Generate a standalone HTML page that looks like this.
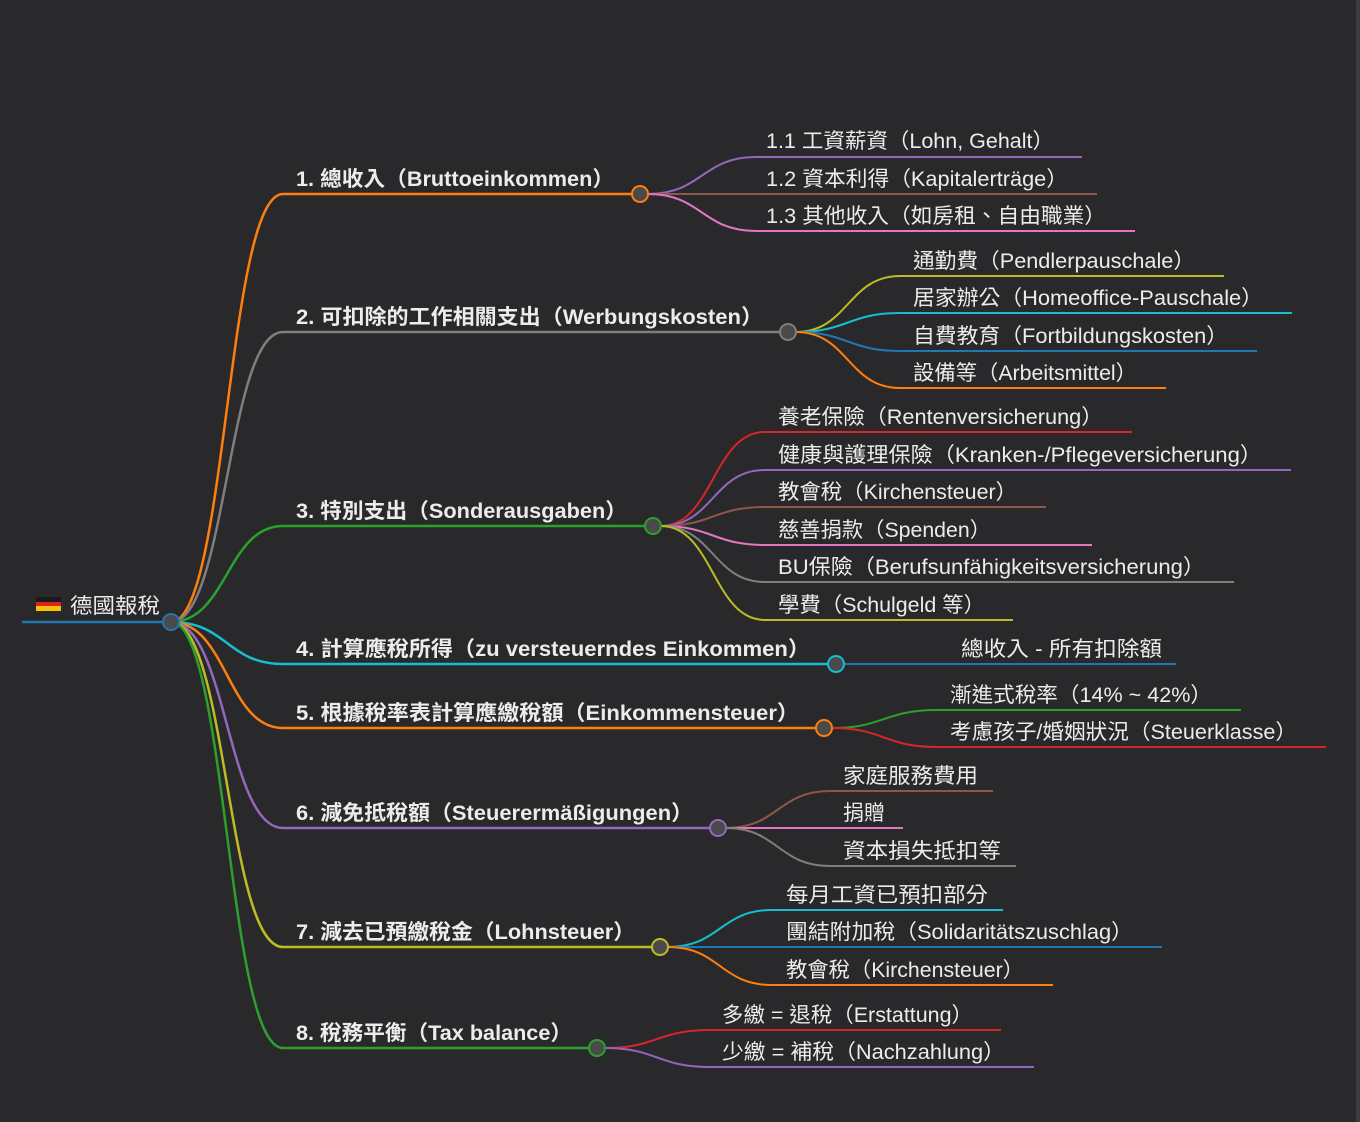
<!DOCTYPE html>
<html><head><meta charset="utf-8">
<style>
html,body{margin:0;padding:0;background:#29292b;width:1360px;height:1122px;overflow:hidden}
svg{display:block}
text{font-family:"Liberation Sans","Noto Sans CJK TC",sans-serif;fill:#ececec}
.b{font-weight:bold;font-size:21px}
.n{font-size:21px}
path{fill:none}
circle{fill:#4a4a4c}
</style></head><body>
<svg width="1360" height="1122" viewBox="0 0 1360 1122">
<rect x="0" y="0" width="1360" height="1122" fill="#29292b"/>
<rect x="1356" y="0" width="4" height="1122" fill="#3c3c3e"/>

<!-- level 1 links -->
<g stroke-width="2.5">
<path stroke="#ff7f0e" d="M171,622 C227,622 227,194 283,194 L640,194"/>
<path stroke="#7f7f7f" d="M171,622 C227,622 227,332 283,332 L788,332"/>
<path stroke="#2ca02c" d="M171,622 C227,622 227,526 283,526 L653,526"/>
<path stroke="#17becf" d="M171,622 C227,622 227,664 283,664 L836,664"/>
<path stroke="#ff7f0e" d="M171,622 C227,622 227,728 283,728 L824,728"/>
<path stroke="#9467bd" d="M171,622 C227,622 227,828 283,828 L718,828"/>
<path stroke="#bcbd22" d="M171,622 C227,622 227,947 283,947 L660,947"/>
<path stroke="#2ca02c" d="M171,622 C227,622 227,1048 283,1048 L597,1048"/>
<path stroke="#1f77b4" d="M22,622 L171,622"/>
</g>

<!-- level 2 links -->
<g stroke-width="2">
<path stroke="#9467bd" d="M648,194 C702,194 702,157 756,157 L1082,157"/>
<path stroke="#8c564b" d="M648,194 L1097,194"/>
<path stroke="#e377c2" d="M648,194 C702,194 702,231 756,231 L1135,231"/>

<path stroke="#bcbd22" d="M796,332 C848,332 848,276 900,276 L1224,276"/>
<path stroke="#17becf" d="M796,332 C848,332 848,313 900,313 L1292,313"/>
<path stroke="#1f77b4" d="M796,332 C848,332 848,351 900,351 L1257,351"/>
<path stroke="#ff7f0e" d="M796,332 C848,332 848,388 900,388 L1166,388"/>

<path stroke="#d62728" d="M661,526 C713,526 713,432 765,432 L1132,432"/>
<path stroke="#9467bd" d="M661,526 C713,526 713,470 765,470 L1291,470"/>
<path stroke="#8c564b" d="M661,526 C713,526 713,507 765,507 L1046,507"/>
<path stroke="#e377c2" d="M661,526 C713,526 713,545 765,545 L1092,545"/>
<path stroke="#7f7f7f" d="M661,526 C713,526 713,582 765,582 L1234,582"/>
<path stroke="#bcbd22" d="M661,526 C713,526 713,620 765,620 L1013,620"/>

<path stroke="#1f77b4" d="M844,664 L1176,664"/>

<path stroke="#2ca02c" d="M832,728 C884,728 884,710 937,710 L1241,710"/>
<path stroke="#d62728" d="M832,728 C884,728 884,747 937,747 L1326,747"/>

<path stroke="#8c564b" d="M726,828 C778,828 778,791 830,791 L993,791"/>
<path stroke="#e377c2" d="M726,828 L903,828"/>
<path stroke="#7f7f7f" d="M726,828 C778,828 778,866 830,866 L1016,866"/>

<path stroke="#17becf" d="M668,947 C720,947 720,910 772,910 L1003,910"/>
<path stroke="#1f77b4" d="M668,947 L1162,947"/>
<path stroke="#ff7f0e" d="M668,947 C720,947 720,985 772,985 L1053,985"/>

<path stroke="#d62728" d="M605,1048 C657,1048 657,1030 710,1030 L1001,1030"/>
<path stroke="#9467bd" d="M605,1048 C657,1048 657,1067 710,1067 L1034,1067"/>
</g>

<!-- circles -->
<g stroke-width="2">
<circle cx="171" cy="622" r="8" stroke="#1f77b4"/>
<circle cx="640" cy="194" r="8" stroke="#ff7f0e"/>
<circle cx="788" cy="332" r="8" stroke="#7f7f7f"/>
<circle cx="653" cy="526" r="8" stroke="#2ca02c"/>
<circle cx="836" cy="664" r="8" stroke="#17becf"/>
<circle cx="824" cy="728" r="8" stroke="#ff7f0e"/>
<circle cx="718" cy="828" r="8" stroke="#9467bd"/>
<circle cx="660" cy="947" r="8" stroke="#bcbd22"/>
<circle cx="597" cy="1048" r="8" stroke="#2ca02c"/>
</g>

<!-- root -->
<rect x="36" y="597" width="25" height="5" fill="#1a1a1a"/>
<rect x="36" y="602" width="25" height="4" fill="#dd2020"/>
<rect x="36" y="606" width="25" height="5" fill="#f5c400"/>
<text class="n" x="70" y="613" textLength="90" lengthAdjust="spacingAndGlyphs">德國報稅</text>

<!-- level 1 text -->
<text class="b" x="296" y="186" textLength="318" lengthAdjust="spacingAndGlyphs">1. 總收入（Bruttoeinkommen）</text>
<text class="b" x="296" y="324" textLength="467" lengthAdjust="spacingAndGlyphs">2. 可扣除的工作相關支出（Werbungskosten）</text>
<text class="b" x="296" y="518" textLength="331" lengthAdjust="spacingAndGlyphs">3. 特別支出（Sonderausgaben）</text>
<text class="b" x="296" y="656" textLength="514" lengthAdjust="spacingAndGlyphs">4. 計算應稅所得（zu versteuerndes Einkommen）</text>
<text class="b" x="296" y="720" textLength="503" lengthAdjust="spacingAndGlyphs">5. 根據稅率表計算應繳稅額（Einkommensteuer）</text>
<text class="b" x="296" y="820" textLength="397" lengthAdjust="spacingAndGlyphs">6. 減免抵稅額（Steuerermäßigungen）</text>
<text class="b" x="296" y="939" textLength="339" lengthAdjust="spacingAndGlyphs">7. 減去已預繳稅金（Lohnsteuer）</text>
<text class="b" x="296" y="1040" textLength="276" lengthAdjust="spacingAndGlyphs">8. 稅務平衡（Tax balance）</text>

<!-- level 2 text -->
<g class="n">
<text class="n" x="766" y="148" textLength="288" lengthAdjust="spacingAndGlyphs">1.1 工資薪資（Lohn, Gehalt）</text>
<text class="n" x="766" y="186" textLength="302" lengthAdjust="spacingAndGlyphs">1.2 資本利得（Kapitalerträge）</text>
<text class="n" x="766" y="223" textLength="340" lengthAdjust="spacingAndGlyphs">1.3 其他收入（如房租、自由職業）</text>

<text class="n" x="913" y="268" textLength="282" lengthAdjust="spacingAndGlyphs">通勤費（Pendlerpauschale）</text>
<text class="n" x="913" y="305" textLength="350" lengthAdjust="spacingAndGlyphs">居家辦公（Homeoffice-Pauschale）</text>
<text class="n" x="913" y="343" textLength="315" lengthAdjust="spacingAndGlyphs">自費教育（Fortbildungskosten）</text>
<text class="n" x="913" y="380" textLength="224" lengthAdjust="spacingAndGlyphs">設備等（Arbeitsmittel）</text>

<text class="n" x="778" y="424" textLength="325" lengthAdjust="spacingAndGlyphs">養老保險（Rentenversicherung）</text>
<text class="n" x="778" y="462" textLength="484" lengthAdjust="spacingAndGlyphs">健康與護理保險（Kranken-/Pflegeversicherung）</text>
<text class="n" x="778" y="499" textLength="239" lengthAdjust="spacingAndGlyphs">教會稅（Kirchensteuer）</text>
<text class="n" x="778" y="537" textLength="213" lengthAdjust="spacingAndGlyphs">慈善捐款（Spenden）</text>
<text class="n" x="778" y="574" textLength="427" lengthAdjust="spacingAndGlyphs">BU保險（Berufsunfähigkeitsversicherung）</text>
<text class="n" x="778" y="612" textLength="207" lengthAdjust="spacingAndGlyphs">學費（Schulgeld 等）</text>

<text class="n" x="961" y="656" textLength="201" lengthAdjust="spacingAndGlyphs">總收入 - 所有扣除額</text>

<text class="n" x="950" y="702" textLength="262" lengthAdjust="spacingAndGlyphs">漸進式稅率（14% ~ 42%）</text>
<text class="n" x="950" y="739" textLength="347" lengthAdjust="spacingAndGlyphs">考慮孩子/婚姻狀況（Steuerklasse）</text>

<text class="n" x="843" y="783" textLength="135" lengthAdjust="spacingAndGlyphs">家庭服務費用</text>
<text class="n" x="843" y="820" textLength="42" lengthAdjust="spacingAndGlyphs">捐贈</text>
<text class="n" x="843" y="858" textLength="158" lengthAdjust="spacingAndGlyphs">資本損失抵扣等</text>

<text class="n" x="786" y="902" textLength="202" lengthAdjust="spacingAndGlyphs">每月工資已預扣部分</text>
<text class="n" x="786" y="939" textLength="347" lengthAdjust="spacingAndGlyphs">團結附加稅（Solidaritätszuschlag）</text>
<text class="n" x="786" y="977" textLength="238" lengthAdjust="spacingAndGlyphs">教會稅（Kirchensteuer）</text>

<text class="n" x="722" y="1022" textLength="251" lengthAdjust="spacingAndGlyphs">多繳 = 退稅（Erstattung）</text>
<text class="n" x="722" y="1059" textLength="283" lengthAdjust="spacingAndGlyphs">少繳 = 補稅（Nachzahlung）</text>
</g>
</svg>
</body></html>
